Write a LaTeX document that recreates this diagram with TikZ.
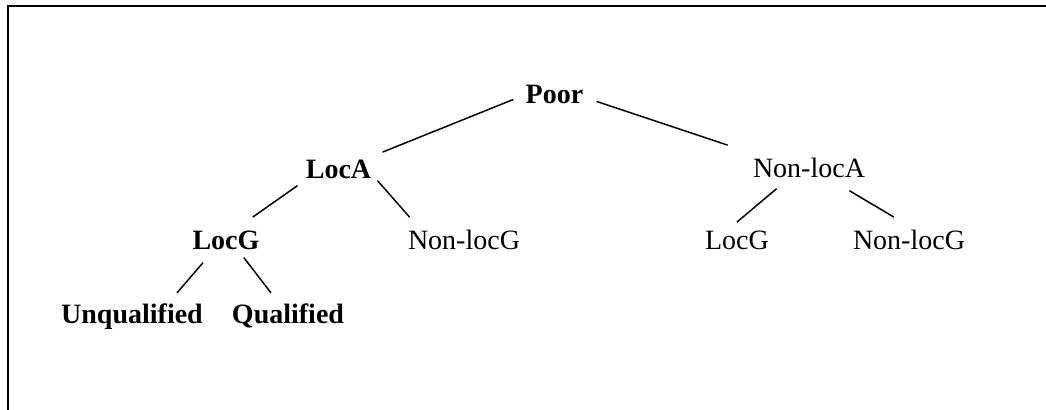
\documentclass[tikz,border=0pt]{standalone}
\usepackage{fontspec}
\setmainfont{Liberation Serif}
\usetikzlibrary{calc}
\tikzset{
  lbl/.style={inner sep=0pt, anchor=base, font=\fontsize{14}{16}\selectfont},
  blbl/.style={lbl, font=\fontsize{14}{16}\selectfont\bfseries},
  edge/.style={draw=black, line width=0.75pt},
  frame/.style={draw=black, line width=1.2pt}
}
\begin{document}
\begin{tikzpicture}[x=0.5pt,y=-0.5pt]
\useasboundingbox (0,0) rectangle (1046,410);
\coordinate (fb) at (8,410);
\coordinate (fc) at (8,6);
\coordinate (fr) at (1046,6);
\draw[frame] (fb) -- (fc) -- (fr);

\node[blbl] (poor) at (554.5,104) {Poor};
\node[blbl] (loca) at (338.5,179) {LocA};
\node[lbl] (nla) at (809,178) {Non-locA};
\node[blbl] (locg1) at (226,250) {LocG};
\node[lbl] (nlg1) at (464,250) {Non-locG};
\node[lbl] (locg2) at (737,250) {LocG};
\node[lbl] (nlg2) at (909,250) {Non-locG};
\node[blbl] (unq) at (132,324) {Unqualified};
\node[blbl] (qual) at (288,324) {Qualified};

\draw[edge] ($(loca.north east)+(11,-8)$) -- ($(poor.west)+(-12,4.5)$);
\draw[edge] ($(poor.east)+(13,6.5)$) -- ($(nla.north west)+(-25,-13)$);
\draw[edge] ($(loca.south west)+(-8,6)$) -- ($(locg1.north east)+(-7,-14)$);
\draw[edge] ($(loca.south east)+(6,1)$) -- ($(nlg1.north west)+(2,-13)$);
\draw[edge] ($(nla.south west)+(24,10)$) -- ($(locg2.north)+(0,-9)$);
\draw[edge] ($(nla.south east)+(-16,12)$) -- ($(nlg2.north)+(-15,-13)$);
\draw[edge] ($(locg1.south)+(-23,12)$) -- ($(unq.north)+(45,-11)$);
\draw[edge] ($(locg1.south east)+(-16,7)$) -- ($(qual.north)+(-17,-11)$);
\end{tikzpicture}
\end{document}
